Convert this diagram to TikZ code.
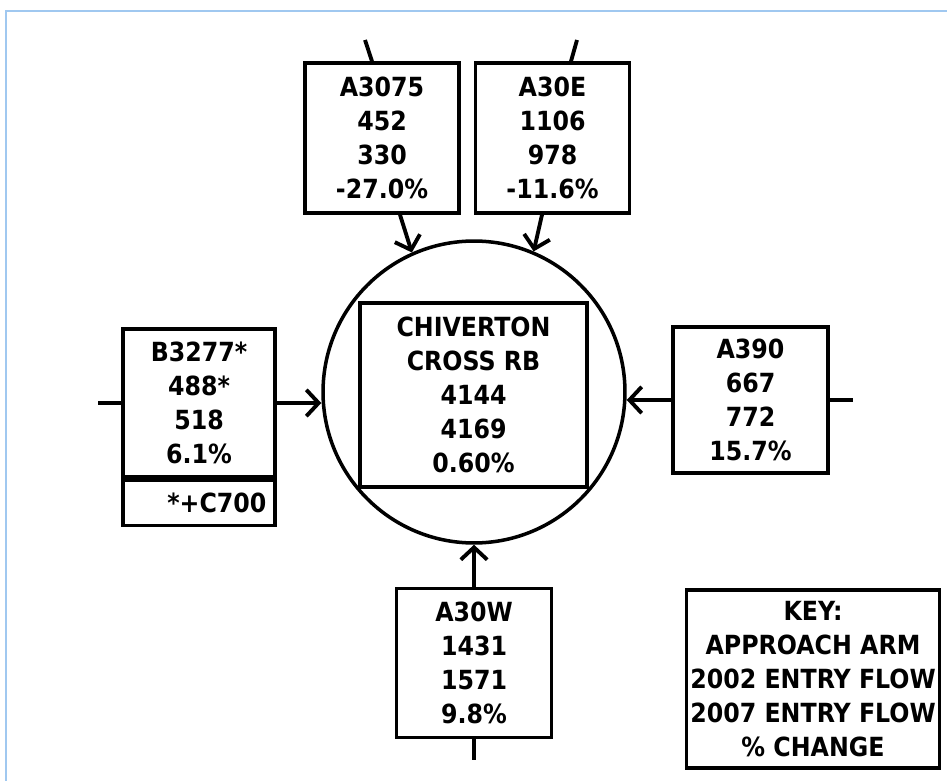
\documentclass[tikz,border=0pt]{standalone}
\usepackage{fontspec}
\setmainfont{DejaVu Sans Condensed}
\usetikzlibrary{arrows.meta}
\definecolor{frameblue}{RGB}{160,200,240}

\begin{document}
\begin{tikzpicture}[x=0.02cm,y=-0.02cm]
      \useasboundingbox (0,0) rectangle (947,781);
      \draw[line width=0.06cm, frameblue] (6,781) -- (6,11) -- (947,11);
      \begin{scope}[every node/.style={draw,line width=2pt,inner sep=0pt,align=center,
          font=\bfseries\fontsize{15}{19.4}\selectfont}]
        \node (rb) [circle,minimum size=6.04cm] at (474,392) {};
        \node (rbname) [minimum width=4.54cm,minimum height=3.68cm] at (473.5,395)
          {CHIVERTON\\CROSS RB\\4144\\4169\\0.60\%};
        \node (a3075) [minimum width=3.08cm,minimum height=3cm] at (382,138) {A3075\\452\\330\\-27.0\%};
        \node (a30e) [minimum width=3.08cm,minimum height=3cm] at (552.5,138) {A30E\\1106\\978\\-11.6\%};
        \node (b3277) [minimum width=3.04cm,minimum height=2.96cm] at (199,403) {B3277*\\488*\\518\\6.1\%};
        \node (c700) [minimum width=3.04cm,minimum height=0.9cm,text width=2.7cm,align=right,anchor=north]
          at (b3277.south) {*+C700};
        \node (a390) [minimum width=3.1cm,minimum height=2.92cm] at (750.5,400) {A390\\667\\772\\15.7\%};
        \node (a30w) [minimum width=3.1cm,minimum height=2.98cm] at (474,663) {A30W\\1431\\1571\\9.8\%};
        \node (key) [minimum width=5.06cm,minimum height=3.56cm] at (813,679)
          {KEY:\\APPROACH ARM\\2002 ENTRY FLOW\\2007 ENTRY FLOW\\\% CHANGE};
      \end{scope}
      % free ends of the approach arms
      \coordinate (a3075end) at (365,40);
      \coordinate (a30eend) at (577,40);
      \coordinate (b3277end) at (98,403);
      \coordinate (a390end) at (853,400);
      \coordinate (a30wend) at (474,760);
      \begin{scope}
        [line width=2.2pt,every edge/.style={draw=black,line width=2.2pt},
        >={Straight Barb[length=7pt,width=15pt]}]
        \path (a3075end) edge ([xshift=-0.2cm]a3075.north);
        \path ([xshift=0.36cm]a3075.south) edge[->] (rb.114);
        \path (a30eend) edge ([xshift=0.37cm]a30e.north);
        \path ([xshift=-0.21cm]a30e.south) edge[->] (rb.67);
        \path (b3277end) edge (b3277.west);
        \path (b3277.east) edge[->] (b3277.east -| rb.west);
        \path (a390.west) edge[->] (a390.west -| rb.east);
        \path (a390.east) edge (a390end);
        \path (a30w.north) edge[->] (rb.south);
        \path (a30w.south) edge (a30wend);
      \end{scope}
    \end{tikzpicture}
\end{document}
